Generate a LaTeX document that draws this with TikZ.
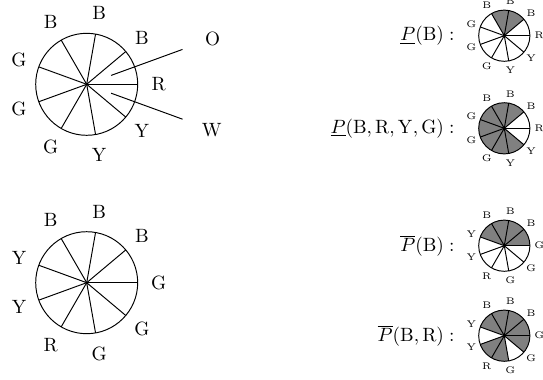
\documentclass[tikz,border=0pt]{standalone}
\usetikzlibrary{calc}
\newcommand\mywheel[5]{%
  \foreach \a/\l [count=\i] in {#5} {%
    \draw[wheel] (#1) -- ($(#1)+(\a:#2)$);
    \node[#4] (#1-\i) at ($(#1)+(\a:#3)$) {\l};
  }%
  \draw[wheel] (#1) circle[radius=#2];
}
\newcommand\mysector[4]{%
  \fill[shade] (#1) -- ($(#1)+(#2:#4)$) arc[start angle=#2, end angle=#3, radius=#4] -- cycle;
}
\begin{document}
\begin{tikzpicture}[x=0.52pt,y=0.52pt,
  wheel/.style={line width=0.5pt},
  bigl/.style={inner sep=0pt, font=\normalsize},
  smalll/.style={inner sep=0pt, font=\tiny},
  shade/.style={fill=black!50},
  eqlab/.style={anchor=east, inner sep=0pt}]
\useasboundingbox (0,0) rectangle (543,379);

\coordinate (A) at (86.7,294.7);
\coordinate (Bw) at (86.7,96.3);
\coordinate (S1) at (504.3,343.3);
\coordinate (S2) at (504.3,250.7);
\coordinate (S3) at (504.3,133.3);
\coordinate (S4) at (504.3,43.3);

% shading
\mysector{S1}{40}{120}{25.6}
\mysector{S2}{40}{320}{25.6}
\mysector{S3}{0}{160}{25.6}
\mysector{S4}{0}{160}{25.6}
\mysector{S4}{200}{280}{25.6}
\mysector{S4}{320}{360}{25.6}

% wheels
\mywheel{A}{51}{72}{bigl}{0/R,40/B,80/B,120/B,160/G,200/G,240/G,280/Y,320/Y}
\mywheel{Bw}{51}{72}{bigl}{0/G,40/B,80/B,120/B,160/Y,200/Y,240/R,280/G,320/G}
\mywheel{S1}{25.6}{35}{smalll}{0/R,40/B,80/B,120/B,160/G,200/G,240/G,280/Y,320/Y}
\mywheel{S2}{25.6}{35}{smalll}{0/R,40/B,80/B,120/B,160/G,200/G,240/G,280/Y,320/Y}
\mywheel{S3}{25.6}{35}{smalll}{0/G,40/B,80/B,120/B,160/Y,200/Y,240/R,280/G,320/G}
\mywheel{S4}{25.6}{35}{smalll}{0/G,40/B,80/B,120/B,160/Y,200/Y,240/R,280/G,320/G}

% O and W
\coordinate (o1) at ($(A)+(20:26)$);
\coordinate (o2) at ($(A)+(20:102)$);
\coordinate (w1) at ($(A)+(-20:26)$);
\coordinate (w2) at ($(A)+(-20:102)$);
\node[bigl] (O) at ($(A)+(20:134)$) {O};
\node[bigl] (W) at ($(A)+(-20:133)$) {W};
\draw[wheel] (o1) -- (o2);
\draw[wheel] (w1) -- (w2);

% equations
\node[eqlab] (e1) at (455,343.3) {$\underline{P}(\mathrm{B}):$};
\node[eqlab] (e2) at (455,250.7) {$\underline{P}(\mathrm{B},\mathrm{R},\mathrm{Y},\mathrm{G}):$};
\node[eqlab] (e3) at (455,133.3) {$\overline{P}(\mathrm{B}):$};
\node[eqlab] (e4) at (455,43.3) {$\overline{P}(\mathrm{B},\mathrm{R}):$};
\end{tikzpicture}
\end{document}
